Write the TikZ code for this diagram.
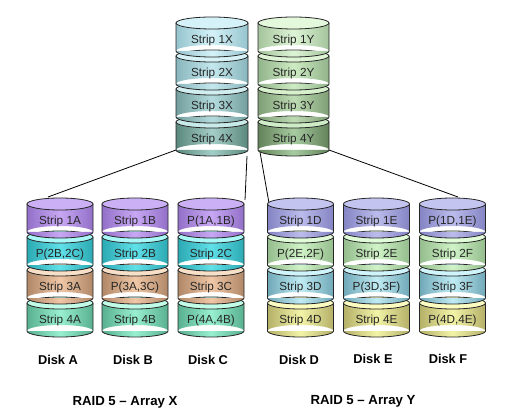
\documentclass[tikz,border=0pt]{standalone}
\usepackage{fontspec}
\setmainfont{Liberation Sans}
% top stack colours (e = edge, m = middle, t = top ellipse)
\definecolor{X1e}{HTML}{96C4CE}\definecolor{X1m}{HTML}{D4F2F8}\definecolor{X1t}{HTML}{D4F2F8}
\definecolor{X2e}{HTML}{88B6BC}\definecolor{X2m}{HTML}{C4E8EE}\definecolor{X2t}{HTML}{D6F2F6}
\definecolor{X3e}{HTML}{749E9E}\definecolor{X3m}{HTML}{B4DCDE}\definecolor{X3t}{HTML}{D0EEF0}
\definecolor{X4e}{HTML}{5A887C}\definecolor{X4m}{HTML}{A4CEC8}\definecolor{X4t}{HTML}{C8EAE8}
\definecolor{Y1e}{HTML}{A4C49C}\definecolor{Y1m}{HTML}{DEF4D6}\definecolor{Y1t}{HTML}{E4F8DC}
\definecolor{Y2e}{HTML}{92B48A}\definecolor{Y2m}{HTML}{CEECC4}\definecolor{Y2t}{HTML}{DEF4D4}
\definecolor{Y3e}{HTML}{7E9E76}\definecolor{Y3m}{HTML}{BEDCB4}\definecolor{Y3t}{HTML}{D6F0CC}
\definecolor{Y4e}{HTML}{62825A}\definecolor{Y4m}{HTML}{A8CCA2}\definecolor{Y4t}{HTML}{CEECC6}
% bottom disk colours
\definecolor{PUe}{HTML}{9270C8}\definecolor{PUm}{HTML}{C8A8F4}\definecolor{PUt}{HTML}{CCB0F6}
\definecolor{TEe}{HTML}{2CAAB4}\definecolor{TEm}{HTML}{60E0E8}\definecolor{TEt}{HTML}{A8F8F8}
\definecolor{TAe}{HTML}{B08868}\definecolor{TAm}{HTML}{F0C8A8}\definecolor{TAt}{HTML}{F8E0C8}
\definecolor{GRe}{HTML}{58B090}\definecolor{GRm}{HTML}{98F0D0}\definecolor{GRt}{HTML}{C0FCE8}
\definecolor{LVe}{HTML}{8484C4}\definecolor{LVm}{HTML}{BCBCEC}\definecolor{LVt}{HTML}{C4C4F0}
\definecolor{LGe}{HTML}{94BC8C}\definecolor{LGm}{HTML}{D0F4C8}\definecolor{LGt}{HTML}{E0FCD8}
\definecolor{BLe}{HTML}{70A8B8}\definecolor{BLm}{HTML}{C0ECF4}\definecolor{BLt}{HTML}{D0F4FC}
\definecolor{YEe}{HTML}{B4B068}\definecolor{YEm}{HTML}{F4F4A8}\definecolor{YEt}{HTML}{FCFCC0}
\tikzset{
  outl/.style={draw=black!85, line width=0.6pt},
  striptext/.style={font=\fontsize{8.8pt}{10pt}\selectfont, text=black!85, inner sep=0pt},
  disklabel/.style={font=\fontsize{9.6pt}{11pt}\selectfont\bfseries, inner sep=0pt},
  raidlabel/.style={font=\fontsize{9.9pt}{11pt}\selectfont\bfseries, inner sep=0pt},
  conn/.style={draw=black, line width=0.6pt}
}
% \seg{cx}{ytop}{rx}{colour prefix}{text}{name}
\newcommand\seg[6]{%
  \shade[left color=#4e, right color=#4e, middle color=#4m]
    (#1-#3,#2) rectangle (#1+#3,#2+28) (#1,#2+28) ellipse[x radius=#3, y radius=6];
  \draw[outl] (#1-#3,#2) -- (#1-#3,#2+28)
    arc[start angle=180, end angle=0, x radius=#3, y radius=6] -- (#1+#3,#2);
  \draw[outl, fill=#4t] (#1,#2) ellipse[x radius=#3, y radius=6];
  \node[striptext] (#6) at (#1,#2+17) {#5};
}
\begin{document}
\begin{tikzpicture}[x=0.75pt, y=-0.75pt]
\useasboundingbox[fill=white] (0,0) rectangle (517,413);
% connectors
\coordinate (xl) at (176,150);
\coordinate (ak) at (48,197);
\coordinate (xr) at (247,156);
\coordinate (ck) at (245,200);
\coordinate (yl) at (260,152);
\coordinate (dk) at (269,203);
\coordinate (yr) at (329,150);
\coordinate (fk) at (458,197);
\draw[conn] (xl) -- (ak);
\draw[conn] (xr) -- (ck);
\draw[conn] (yl) -- (dk);
\draw[conn] (yr) -- (fk);
% top stack X
\seg{212}{122}{36}{X4}{Strip 4X}{x4}
\seg{212}{89}{36}{X3}{Strip 3X}{x3}
\seg{212}{56}{36}{X2}{Strip 2X}{x2}
\seg{212}{23}{36}{X1}{Strip 1X}{x1}
% top stack Y
\seg{293.5}{122}{35.5}{Y4}{Strip 4Y}{y4}
\seg{293.5}{89}{35.5}{Y3}{Strip 3Y}{y3}
\seg{293.5}{56}{35.5}{Y2}{Strip 2Y}{y2}
\seg{293.5}{23}{35.5}{Y1}{Strip 1Y}{y1}
% Disk A
\seg{60}{303}{33}{GR}{Strip 4A}{a4}
\seg{60}{270}{33}{TA}{Strip 3A}{a3}
\seg{60}{237}{33}{TE}{P(2B,2C)}{a2}
\seg{60}{204}{33}{PU}{Strip 1A}{a1}
% Disk B
\seg{135}{303}{33}{GR}{Strip 4B}{b4}
\seg{135}{270}{33}{TA}{P(3A,3C)}{b3}
\seg{135}{237}{33}{TE}{Strip 2B}{b2}
\seg{135}{204}{33}{PU}{Strip 1B}{b1}
% Disk C
\seg{211}{303}{33}{GR}{P(4A,4B)}{c4}
\seg{211}{270}{33}{TA}{Strip 3C}{c3}
\seg{211}{237}{33}{TE}{Strip 2C}{c2}
\seg{211}{204}{33}{PU}{P(1A,1B)}{c1}
% Disk D
\seg{300.5}{303}{33}{YE}{Strip 4D}{d4}
\seg{300.5}{270}{33}{BL}{Strip 3D}{d3}
\seg{300.5}{237}{33}{LG}{P(2E,2F)}{d2}
\seg{300.5}{204}{33}{LV}{Strip 1D}{d1}
% Disk E
\seg{376.5}{303}{33}{YE}{Strip 4E}{e4}
\seg{376.5}{270}{33}{BL}{P(3D,3F)}{e3}
\seg{376.5}{237}{33}{LG}{Strip 2E}{e2}
\seg{376.5}{204}{33}{LV}{Strip 1E}{e1}
% Disk F
\seg{452.5}{303}{33}{YE}{P(4D,4E)}{f4}
\seg{452.5}{270}{33}{BL}{Strip 3F}{f3}
\seg{452.5}{237}{33}{LG}{Strip 2F}{f2}
\seg{452.5}{204}{33}{LV}{P(1D,1E)}{f1}
% labels
\node[disklabel] (la) at (58,360) {Disk A};
\node[disklabel] (lb) at (133,360) {Disk B};
\node[disklabel] (lc) at (208,360) {Disk C};
\node[disklabel] (ld) at (299,360) {Disk D};
\node[disklabel] (le) at (373,359) {Disk E};
\node[disklabel] (lf) at (448,359) {Disk F};
\node[raidlabel] (rx) at (125,402) {RAID 5 – Array X};
\node[raidlabel] (ry) at (363,401) {RAID 5 – Array Y};
\end{tikzpicture}
\end{document}
